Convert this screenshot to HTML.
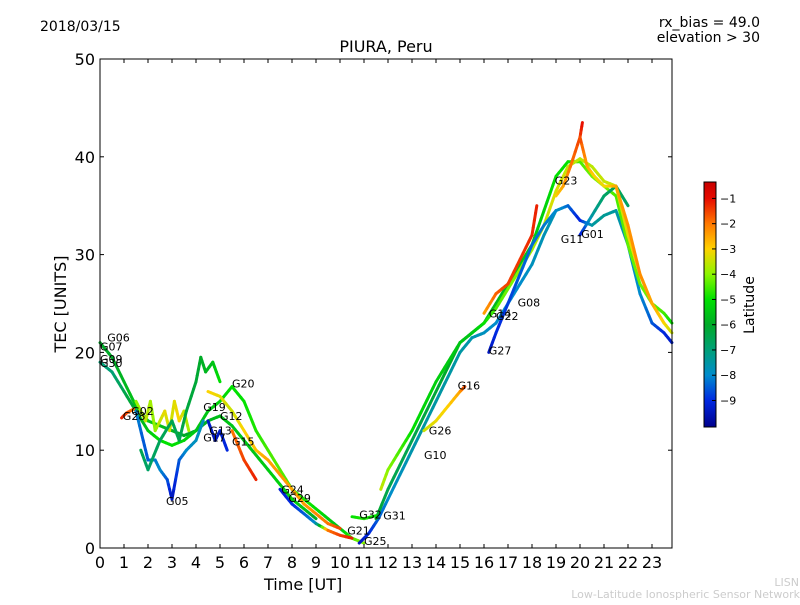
<!DOCTYPE html>
<html><head><meta charset="utf-8">
<style>
body{margin:0;background:#fff;font-family:"Liberation Sans","DejaVu Sans",sans-serif;}
svg text{font-family:"DejaVu Sans","Liberation Sans",sans-serif;}
</style></head>
<body>
<svg id="chart" width="800" height="600" viewBox="0 0 800 600" xmlns="http://www.w3.org/2000/svg">
<defs>
<linearGradient id="jet" x1="0" y1="1" x2="0" y2="0"></linearGradient>
</defs>
<text x="40" y="31" font-size="14">2018/03/15</text>
<text x="760" y="27" font-size="14" text-anchor="end">rx_bias = 49.0</text>
<text x="760" y="42" font-size="14" text-anchor="end">elevation &gt; 30</text>
<text x="386" y="52" font-size="16" text-anchor="middle">PIURA, Peru</text>
<g id="marks"></g>
<g id="labels"></g>
<rect x="100" y="59" width="572" height="489" fill="none" stroke="#000" stroke-width="1"/>
<g id="axes"></g>
<text x="264" y="590" font-size="16">Time [UT]</text>
<text x="66" y="304" font-size="16" text-anchor="middle" transform="rotate(-90 66 304)">TEC [UNITS]</text>
<rect x="704" y="182" width="12" height="245" fill="url(#jet)" stroke="#000" stroke-width="1"/>
<g id="cbticks"></g>
<text x="754" y="305" font-size="14" text-anchor="middle" transform="rotate(-90 754 305)">Latitude</text>
<text x="799" y="586" font-size="11" fill="#ccc" text-anchor="end">LISN</text>
<text x="800" y="598" font-size="11" fill="#ccc" text-anchor="end">Low-Latitude Ionospheric Sensor Network</text>
</svg>
<script>
const xTicks=[0,1,2,3,4,5,6,7,8,9,10,11,12,13,14,15,16,17,18,19,20,21,22,23];
const yTicks=[0,10,20,30,40,50];
const cbTicks=[-1,-2,-3,-4,-5,-6,-7,-8,-9];
const tA=[0,0.5,1,1.5,2,2.5,3,3.5,4,4.5,5,5.5,6,6.5,7,7.5,8,8.5,9];
const vA=[21,19.5,17,14.5,13,12.5,12,11.5,12,13,13.5,12.5,11,9.5,8,6.5,5,4,3];
const lA=[-6,-6,-5.8,-5.5,-5.5,-5.6,-5.8,-6,-6,-5.8,-5.6,-5.5,-5.5,-5.5,-5.4,-5.3,-5.2,-5.5,-6];
const tB=[0,0.5,1,1.5,2,2.5,3,3.5,4,4.5,5,5.5,6,6.5,7,7.5,8,8.5,9,9.5,10,10.5,11];
const vB=[19,18,16,14,12,11,10.5,11,12,14,15,16.5,15,12,10,8,6,5,4,3,2,1,0.5];
const lB=[-7,-7,-6.5,-6,-5.5,-5,-5,-5.2,-5.5,-5.5,-5.3,-5,-5,-4.8,-4.5,-4.4,-4.5,-4.8,-5,-5.3,-5.6,-4.5,-4];
const tC=[4.5,5,5.5,6,6.5,7,7.5,8,8.5,9,9.5,10];
const vC=[16,15.5,14,12,10,9,7.5,6,4.5,3.5,2.5,2];
const lC=[-3,-3.2,-3.5,-3,-2.8,-2.5,-2.3,-2.5,-2.4,-2.2,-2,-1.5];
const tD=[5.5,6,6.5];
const vD=[12,9,7];
const lD=[-2,-1.5,-1.2];
const tE=[7.5,8,8.5,9,9.5,10,10.5];
const vE=[6,4.5,3.5,2.5,1.8,1.3,1];
const lE=[-9.2,-9,-8.5,-8,-2,-1.5,-1.2];
const tF=[1.5,1.7,1.9,2.1,2.3,2.5,2.7,2.9,3.1,3.3,3.5,3.7];
const vF=[15,14,13,15,12,13,14,12,15,13,14,12];
const lF=[-4,-3.8,-3.5,-3.8,-4,-3.5,-3.2,-3.5,-3.3,-3,-3.5,-3.8];
const tG=[1.5,1.8,2,2.3,2.5,2.8,3,3.3,3.6,4,4.3];
const vG=[14,11,9,9,8,7,5,9,10,11,13];
const lG=[-8,-8.5,-8.5,-8.2,-8,-8.5,-9.5,-8.5,-8,-7.8,-7.8];
const tH=[1.7,2,2.5,3,3.3,3.6,4,4.2,4.4,4.7,5];
const vH=[10,8,11,13,11,14,17,19.5,18,19,17];
const lH=[-6.5,-6.8,-6.6,-6.5,-6.5,-6.3,-6.2,-6,-5.8,-5.6,-5];
const tI=[4.5,4.8,5,5.3];
const vI=[13,11,12,10];
const lI=[-9.3,-9.5,-9.3,-9];
const tJ=[10.8,11.2,11.6,12,12.5,13,13.5,14,14.5,15,15.5,16,16.5,17,17.5,18,18.5,19,19.5,20,20.5,21,21.5,22,22.5,23,23.5,23.83];
const vJ=[0.5,1.5,3,5,7.5,10,12.5,15,17.5,20,21.5,22,23,25,27,29,32,34.5,35,33.5,33,34,34.5,31,26,23,22,21];
const lJ=[-9.5,-9,-8.5,-8,-7.8,-7.6,-7.5,-7.5,-7.5,-7.5,-7.6,-7.8,-8,-8,-8,-7.8,-7.7,-7.7,-8.3,-9.2,-7.5,-7.3,-7.5,-7.7,-8,-8.5,-9,-9.3];
const tK=[11.5,12,12.5,13,13.5,14,14.5,15,15.5,16,16.5,17,17.5,18,18.5,19,19.5,20,20.5,21,21.5,22,22.5,23,23.5,23.83];
const vK=[3,6,8.5,11,13.5,16,18.5,21,22,23,25,27,29,31,34.5,38,39.5,39.5,38,37,36,31,27,25,24,23];
const lK=[-6,-6.5,-6.5,-6.5,-6.3,-6.2,-6,-6,-6,-5.8,-5.7,-5.7,-5.6,-5.5,-5.3,-5,-5,-4.5,-4.2,-4,-4.5,-4.3,-4.2,-4.3,-4.5,-5];
const tL=[11.7,12,12.5,13,13.5,14,14.5,15,15.5,16,16.5,17,17.5,18,18.5,19,19.5,20,20.5,21,21.5,22,22.5,23,23.5];
const vL=[6,8,10,12,14.5,17,19,21,22,23,24.5,26.5,28.5,30.5,33,36.5,39,39.8,39,37.5,37,32,28,25,23];
const lL=[-3.5,-4,-4.5,-5,-5.2,-5.3,-5.4,-5.5,-5.5,-5,-4.5,-4.2,-4,-3.8,-3.5,-3.3,-3.5,-3.6,-3.6,-3.5,-3.5,-3.2,-3,-3,-3.2];
const tM=[13.5,14,14.5,15,15.2];
const vM=[12,13,14.5,16,16.5];
const lM=[-3.5,-3.2,-3,-2.5,-1.5];
const tN=[16.2,16.5,17,17.5,18,18.5,19];
const vN=[20,22,25,28,31,33,34.5];
const lN=[-9.5,-9,-8.8,-8.5,-8.3,-8.2,-8];
const tO=[20,20.5,21,21.5,22];
const vO=[32,34,36,37,35];
const lO=[-9.3,-7.5,-6.8,-6.5,-6.8];
const tP=[19,19.3,19.6,20,20.1];
const vP=[36,37,39,42,43.5];
const lP=[-3,-2.5,-2,-1.5,-1];
const tQ=[20,20.3,20.6,21,21.5,22,22.5,23,23.5,23.83];
const vQ=[42,39,38,37,37,33,28,25,23,22];
const lQ=[-1.5,-2.5,-3,-3.2,-2.5,-2.3,-2.2,-2.5,-3,-3.5];
const tR=[16,16.5,17,17.5,18,18.2];
const vR=[24,26,27,29.5,32,35];
const lR=[-2.5,-1.8,-1.5,-1.4,-1.3,-1.2];
const tS=[10.5,11,11.5];
const vS=[3.2,3,3.3];
const lS=[-5,-4.8,-5];
const tT=[0.9,1.1,1.4];
const vT=[13.3,13.8,14.2];
const lT=[-1.2,-1.5,-2];

const tracks=[[tA,vA,lA],[tB,vB,lB],[tC,vC,lC],[tD,vD,lD],[tE,vE,lE],[tF,vF,lF],[tG,vG,lG],[tH,vH,lH],[tI,vI,lI],[tJ,vJ,lJ],[tK,vK,lK],[tL,vL,lL],[tM,vM,lM],[tN,vN,lN],[tO,vO,lO],[tP,vP,lP],[tQ,vQ,lQ],[tR,vR,lR],[tS,vS,lS],[tT,vT,lT]];

const labelText=["G06","G07","G09","G30","G28","G02","G19","G12","G13","G17","G15","G20","G05","G24","G29","G32","G31","G21","G25","G10","G26","G16","G27","G14","G22","G08","G23","G11","G01"];
const labelT=[0.3,0.0,0.0,0.0,0.95,1.3,4.3,5.0,4.55,4.3,5.5,5.5,2.75,7.55,7.85,10.8,11.8,10.3,11.0,13.5,13.7,14.9,16.2,16.2,16.5,17.4,18.95,19.2,20.05];
const labelV=[21.5,20.6,19.3,18.9,13.5,14,14.4,13.5,12.0,11.3,10.9,16.8,4.8,6,5.1,3.4,3.3,1.8,0.7,9.5,12,16.6,20.2,24,23.7,25.1,37.6,31.6,32.1];

const NS="http://www.w3.org/2000/svg";
const X=t=>100+t*24;
const Y=v=>548-v*9.78;
const LMIN=-10.05, LMAX=-0.35;
const cmapLat=[-10.05,-9,-8,-7,-6,-5,-4,-3,-2,-1,-0.35];
const cmapRGB=[[0,0,140],[0,40,225],[0,140,205],[0,160,120],[0,170,40],[0,225,0],[140,245,0],[255,210,0],[255,120,0],[230,10,0],[200,0,0]];
function jet(l){
  l=Math.max(LMIN,Math.min(LMAX,l));
  for(let i=0;i<cmapLat.length-1;i++){
    if(l<=cmapLat[i+1]){
      const f=(l-cmapLat[i])/(cmapLat[i+1]-cmapLat[i]);
      const c=cmapRGB[i].map((v,k)=>Math.round(v+(cmapRGB[i+1][k]-v)*f));
      return `rgb(${c[0]},${c[1]},${c[2]})`;
    }
  }
  return 'rgb(200,0,0)';
}
const grad=document.getElementById('jet');
cmapLat.forEach((l,i)=>{
  const s=document.createElementNS(NS,'stop');
  s.setAttribute('offset',(l-LMIN)/(LMAX-LMIN));
  s.setAttribute('stop-color',`rgb(${cmapRGB[i].join(',')})`);
  grad.appendChild(s);
});
const marks=document.getElementById('marks');
tracks.forEach((tr,k)=>{
  const [ts,vs,ls]=tr;
  for(let i=0;i<ts.length-1;i++){
    const n=4;
    for(let j=0;j<n;j++){
      const a=j/n,b=(j+1)/n;
      const ln=document.createElementNS(NS,'line');
      ln.setAttribute('x1',X(ts[i]+(ts[i+1]-ts[i])*a));
      ln.setAttribute('y1',Y(vs[i]+(vs[i+1]-vs[i])*a));
      ln.setAttribute('x2',X(ts[i]+(ts[i+1]-ts[i])*b));
      ln.setAttribute('y2',Y(vs[i]+(vs[i+1]-vs[i])*b));
      ln.setAttribute('stroke',jet(ls[i]+(ls[i+1]-ls[i])*(a+b)/2));
      ln.setAttribute('stroke-width','3');
      ln.setAttribute('stroke-linecap','round');
      
      
      marks.appendChild(ln);
    }
  }
});
const labels=document.getElementById('labels');
labelText.forEach((s,i)=>{
  const t=document.createElementNS(NS,'text');
  t.setAttribute('x',X(labelT[i]));t.setAttribute('y',Y(labelV[i])+4);
  t.setAttribute('font-size','11');t.textContent=s;
  
  
  labels.appendChild(t);
});
const axes=document.getElementById('axes');
xTicks.forEach(v=>{
  const x=X(v);
  [[548,544],[59,63]].forEach(([a,b])=>{
    const l=document.createElementNS(NS,'line');
    l.setAttribute('x1',x);l.setAttribute('x2',x);l.setAttribute('y1',a);l.setAttribute('y2',b);
    l.setAttribute('stroke','#000');
    
    
    axes.appendChild(l);
  });
  const t=document.createElementNS(NS,'text');
  t.setAttribute('x',x);t.setAttribute('y',568);t.setAttribute('font-size','16');t.setAttribute('text-anchor','middle');
  t.textContent=v;
  
  
  axes.appendChild(t);
});
yTicks.forEach(v=>{
  const y=Y(v);
  [[100,104],[672,668]].forEach(([a,b])=>{
    const l=document.createElementNS(NS,'line');
    l.setAttribute('x1',a);l.setAttribute('x2',b);l.setAttribute('y1',y);l.setAttribute('y2',y);
    l.setAttribute('stroke','#000');
    
    
    axes.appendChild(l);
  });
  const t=document.createElementNS(NS,'text');
  t.setAttribute('x',95);t.setAttribute('y',y+6);t.setAttribute('font-size','16');t.setAttribute('text-anchor','end');
  t.textContent=v;
  
  
  axes.appendChild(t);
});
const cb=document.getElementById('cbticks');
cbTicks.forEach(v=>{
  const y=427-(v-LMIN)/(LMAX-LMIN)*245;
  const l=document.createElementNS(NS,'line');
  l.setAttribute('x1',712);l.setAttribute('x2',716);l.setAttribute('y1',y);l.setAttribute('y2',y);
  l.setAttribute('stroke','#000');
  
  
  cb.appendChild(l);
  const t=document.createElementNS(NS,'text');
  t.setAttribute('x',720);t.setAttribute('y',y+4);t.setAttribute('font-size','11');
  t.textContent='\u2212'+Math.abs(v);
  
  
  cb.appendChild(t);
});
</script>
</body></html>
